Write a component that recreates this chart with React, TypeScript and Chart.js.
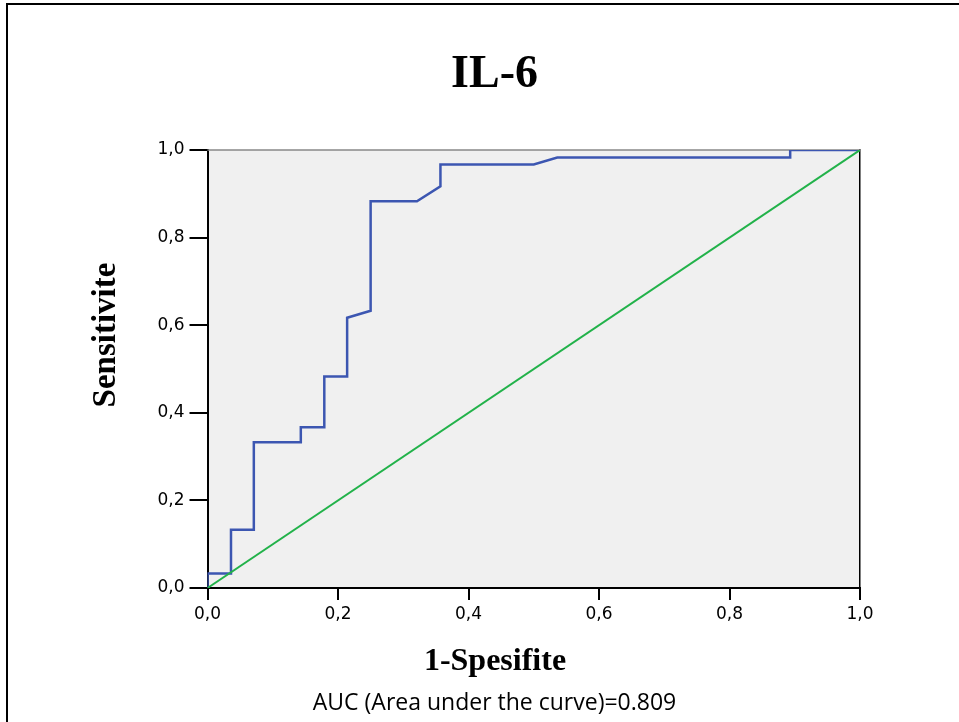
import React, { useEffect, useRef } from 'react';
import { Chart, registerables } from 'chart.js';

Chart.register(...registerables);

// ROC curve points (1-Specificity, Sensitivity)
const rocX = [0, 0, 0.036, 0.036, 0.071, 0.071, 0.143, 0.143, 0.179, 0.179, 0.214, 0.214, 0.25, 0.25, 0.321, 0.357, 0.357, 0.5, 0.536, 0.893, 0.893, 1];
const rocY = [0, 0.033, 0.033, 0.133, 0.133, 0.333, 0.333, 0.367, 0.367, 0.483, 0.483, 0.617, 0.633, 0.883, 0.883, 0.917, 0.967, 0.967, 0.983, 0.983, 1, 1];
// reference diagonal
const refX = [0, 1];
const refY = [0, 1];

const axisMin = 0;
const axisMax = 1;
const tickStep = 0.2;

const chartTitle = 'IL-6';
const xTitle = '1-Spesifite';
const yTitle = 'Sensitivite';
const aucText = 'AUC (Area under the curve)=0.809';

const BLUE = '#3c56b1';
const GREEN = '#22b24a';

const fmt = (v: number | string) => Number(v).toFixed(1).replace('.', ',');

const decor = {
  id: 'decor',
  beforeDraw(chart: any) {
    const { ctx, chartArea: a } = chart;
    ctx.save();
    ctx.fillStyle = '#f0f0f0';
    ctx.fillRect(a.left, a.top, a.right - a.left, a.bottom - a.top);
    // page frame (top + left)
    ctx.fillStyle = '#000';
    ctx.fillRect(6, 3, 959 - 6, 2);
    ctx.fillRect(6, 3, 2, 722 - 3);
    ctx.restore();
  },
  beforeDatasetsDraw(chart: any) {
    const { ctx, chartArea: a } = chart;
    ctx.save();
    ctx.strokeStyle = '#888888';
    ctx.lineWidth = 1.5;
    ctx.beginPath();
    ctx.moveTo(a.left, a.top);
    ctx.lineTo(a.right, a.top);
    ctx.stroke();
    ctx.restore();
  },
  afterDraw(chart: any) {
    const { ctx } = chart;
    ctx.save();
    ctx.fillStyle = '#000';
    ctx.textAlign = 'center';
    ctx.textBaseline = 'middle';
    ctx.font = 'bold 32px "Liberation Serif", serif';
    ctx.fillText(xTitle, 495, 662);
    ctx.translate(106, 335);
    ctx.rotate(-Math.PI / 2);
    ctx.font = 'bold 33px "Liberation Serif", serif';
    ctx.fillText(yTitle, 0, 0);
    ctx.restore();
  },
};

export default function App() {
  const ref = useRef<HTMLCanvasElement>(null);

  useEffect(() => {
    const tickFont = { family: '"DejaVu Sans", sans-serif', size: 17, lineHeight: 1.2 };
    const chart = new Chart(ref.current as HTMLCanvasElement, {
      type: 'scatter',
      data: {
        datasets: [
          {
            label: 'Reference',
            data: refX.map((x, i) => ({ x, y: refY[i] })),
            showLine: true,
            borderColor: GREEN,
            borderWidth: 2,
            pointRadius: 0,
            tension: 0,
            xAxisID: 'x',
            yAxisID: 'y',
          },
          {
            label: 'IL-6',
            data: rocX.map((x, i) => ({ x, y: rocY[i] })),
            showLine: true,
            borderColor: BLUE,
            borderWidth: 2.5,
            pointRadius: 0,
            tension: 0,
            xAxisID: 'x',
            yAxisID: 'y',
          },
        ],
      },
      options: {
        animation: false,
        responsive: false,
        events: [],
        layout: { padding: { left: 30, right: 0, top: 0, bottom: 0 } },
        plugins: {
          legend: { display: false },
          tooltip: { enabled: false },
          title: {
            display: true,
            text: chartTitle,
            color: '#000',
            font: { family: '"Liberation Serif", serif', size: 46, weight: 'bold', lineHeight: 1.2 },
            padding: { top: 47.4, bottom: 47.4 },
          },
          subtitle: {
            display: true,
            position: 'bottom',
            text: aucText,
            color: '#000',
            font: { family: '"Open Sans", sans-serif', size: 23, lineHeight: 1.2 },
            padding: { top: 0, bottom: 5 },
          },
        },
        scales: {
          x: {
            type: 'linear',
            position: 'bottom',
            min: axisMin,
            max: axisMax,
            ticks: { stepSize: tickStep, callback: fmt, color: '#000', font: tickFont, padding: 4, maxRotation: 0, autoSkip: false },
            grid: { display: true, drawOnChartArea: false, drawTicks: true, tickLength: 12, tickColor: '#000', lineWidth: 2, tickWidth: 2 },
            border: { display: true, color: '#000', width: 2 },
            afterFit(s: any) { s.height = 101.4; },
          },
          y: {
            type: 'linear',
            position: 'left',
            min: axisMin,
            max: axisMax,
            ticks: { stepSize: tickStep, callback: fmt, color: '#000', font: tickFont, padding: 5, autoSkip: false },
            grid: { display: true, drawOnChartArea: false, drawTicks: true, tickLength: 18, tickColor: '#000', lineWidth: 2, tickWidth: 2 },
            border: { display: true, color: '#000', width: 2 },
            afterFit(s: any) { s.width = 177.5; },
          },
          y2: {
            type: 'linear',
            position: 'right',
            min: axisMin,
            max: axisMax,
            ticks: { display: false },
            grid: { display: false, drawTicks: false },
            border: { display: true, color: '#000', width: 1.5 },
            afterFit(s: any) { s.width = 99; },
          },
        },
      } as any,
      plugins: [decor],
    });
    return () => chart.destroy();
  }, []);

  return (
    <div style={{ position: 'fixed', left: 0, top: 0, width: 959, height: 722, background: '#fff' }}>
      <canvas ref={ref} width={959} height={722} style={{ display: 'block', width: 959, height: 722 }} />
    </div>
  );
}
